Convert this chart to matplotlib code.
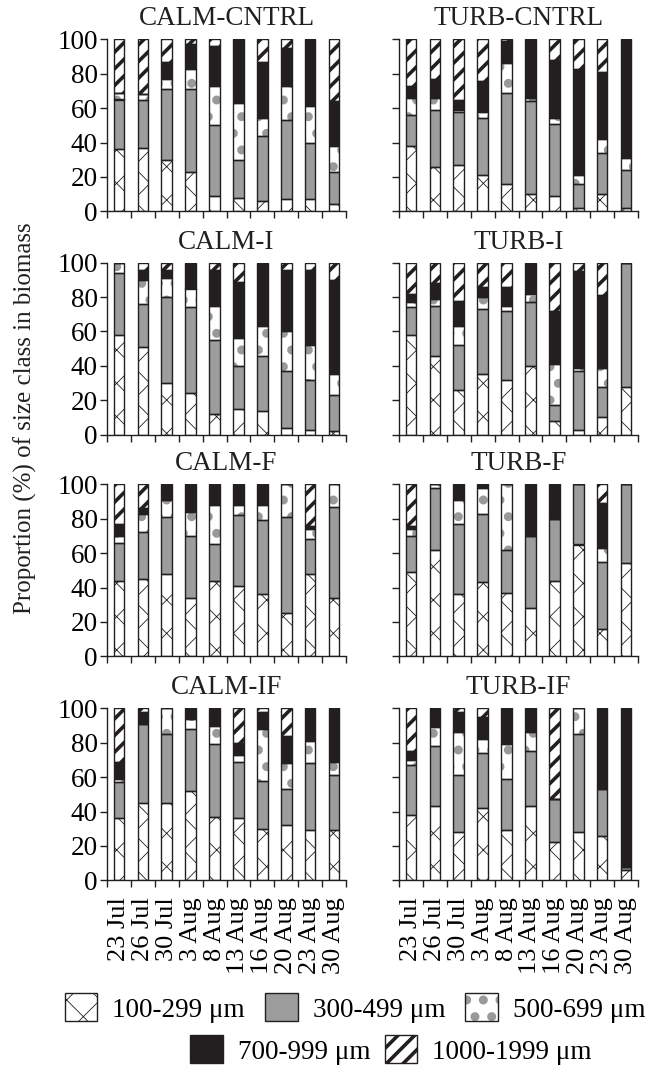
import matplotlib
matplotlib.use("Agg")
import matplotlib.pyplot as plt
from matplotlib.patches import Patch
from matplotlib.legend_handler import HandlerTuple
import numpy as np

plt.rcParams["font.family"] = ["Liberation Serif", "DejaVu Serif"]

dates = ["23 Jul", "26 Jul", "30 Jul", "3 Aug", "8 Aug", "13 Aug", "16 Aug", "20 Aug", "23 Aug", "30 Aug"]
classes = ["100-299 μm", "300-499 μm", "500-699 μm", "700-999 μm", "1000-1999 μm"]

# % of biomass per size class (rows: 100-299, 300-499, 500-699, 700-999, 1000-1999)
calm_cntrl = [[36, 37, 30, 23, 9, 8, 6, 7, 7, 4],
              [29, 28, 41, 48, 41, 22, 38, 46, 33, 19],
              [4, 3, 6, 12, 23, 33, 10, 20, 21, 15],
              [0, 0, 10, 14, 23, 37, 33, 22, 39, 26],
              [31, 32, 13, 3, 4, 0, 13, 5, 0, 36]]
turb_cntrl = [[38, 26, 27, 21, 16, 10, 9, 2, 10, 2],
              [18, 33, 31, 33, 53, 54, 42, 14, 24, 22],
              [10, 7, 1, 4, 17, 2, 3, 5, 8, 7],
              [7, 11, 6, 18, 13, 34, 34, 62, 39, 69],
              [27, 23, 35, 24, 1, 0, 12, 17, 19, 0]]
calm_i = [[58, 51, 30, 24, 12, 15, 14, 4, 3, 2],
          [36, 25, 50, 50, 43, 25, 32, 33, 29, 21],
          [6, 14, 11, 11, 20, 16, 17, 23, 20, 12],
          [0, 6, 5, 15, 21, 33, 37, 36, 44, 55],
          [0, 4, 4, 0, 4, 11, 0, 4, 4, 10]]
turb_i = [[58, 46, 26, 35, 32, 40, 8, 3, 10, 28],
          [16, 29, 26, 38, 40, 37, 9, 34, 18, 72],
          [3, 4, 11, 7, 3, 5, 24, 2, 11, 0],
          [5, 9, 15, 6, 11, 18, 31, 56, 42, 0],
          [18, 12, 22, 14, 14, 0, 28, 5, 19, 0]]
calm_f = [[44, 45, 48, 34, 44, 41, 36, 25, 48, 34],
          [22, 27, 33, 36, 21, 41, 43, 56, 20, 53],
          [4, 11, 10, 14, 23, 6, 9, 19, 6, 13],
          [7, 3, 9, 16, 12, 12, 12, 0, 2, 0],
          [23, 14, 0, 0, 0, 0, 0, 0, 24, 0]]
turb_f = [[49, 62, 36, 43, 37, 28, 44, 65, 16, 54],
          [21, 36, 41, 40, 25, 42, 36, 35, 39, 46],
          [4, 2, 14, 15, 38, 0, 0, 0, 8, 0],
          [2, 0, 9, 2, 0, 30, 20, 0, 26, 0],
          [24, 0, 0, 0, 0, 0, 0, 0, 11, 0]]
calm_if = [[36, 45, 45, 52, 37, 36, 30, 32, 29, 29],
           [21, 46, 40, 36, 42, 33, 28, 21, 39, 32],
           [2, 0, 15, 6, 11, 4, 30, 15, 13, 8],
           [10, 7, 0, 6, 10, 7, 10, 16, 19, 31],
           [31, 2, 0, 0, 0, 20, 2, 16, 0, 0]]
turb_if = [[38, 43, 28, 42, 29, 43, 22, 28, 26, 6],
           [29, 35, 33, 32, 30, 32, 25, 57, 27, 2],
           [3, 11, 25, 8, 20, 11, 0, 15, 0, 0],
           [5, 11, 12, 13, 21, 14, 0, 0, 47, 92],
           [25, 0, 2, 5, 0, 0, 53, 0, 0, 0]]

panels = [("CALM-CNTRL", calm_cntrl), ("TURB-CNTRL", turb_cntrl),
          ("CALM-I", calm_i), ("TURB-I", turb_i),
          ("CALM-F", calm_f), ("TURB-F", turb_f),
          ("CALM-IF", calm_if), ("TURB-IF", turb_if)]

INK = "#231f20"
# (face, hatch, hatch colour, hatch linewidth) per size class
STY = [("white", "x", INK, 0.6),
       ("#9d9d9d", "", INK, 0.6),
       ("white", ".", "#999999", 4.0),
       (INK, "", INK, 0.6),
       ("white", "//", INK, 2.6)]
HLW = {h: w for _, h, _, w in STY if h}
FS = 19.5

W, H = 645, 1073
fig = plt.figure(figsize=(W / 100, H / 100), dpi=100)
lefts = [107, 399]
tops = [39.3, 262.7, 484.3, 708.3]
AW, AH = 239, 172


def set_hlw(patches):
    for p in patches:
        h = p.get_hatch()
        if h and hasattr(p, "set_hatch_linewidth"):
            p.set_hatch_linewidth(HLW[h])


x = np.arange(len(dates))
for k, (title, data) in enumerate(panels):
    r, c = divmod(k, 2)
    ax = fig.add_axes([lefts[c] / W, 1 - (tops[r] + AH) / H, AW / W, AH / H])
    bot = np.zeros(len(dates))
    for i, vals in enumerate(data):
        vals = np.array(vals, float)
        face, hatch, hc, hlw = STY[i]
        with plt.rc_context({"hatch.linewidth": hlw}):
            bars = ax.bar(x, vals, 0.44, bottom=bot, color=face, hatch=hatch or None,
                          edgecolor=hc, linewidth=0, zorder=2)
        set_hlw(bars.patches)
        ax.bar(x, vals, 0.44, bottom=bot, fill=False, edgecolor=INK, linewidth=1.0, zorder=3)
        bot = bot + vals
    ax.set_xlim(-0.5, 9.5)
    ax.set_ylim(0, 100)
    for s in ("top", "right"):
        ax.spines[s].set_visible(False)
    for s in ("left", "bottom"):
        ax.spines[s].set_linewidth(1.0)
        ax.spines[s].set_color(INK)
    ax.set_yticks(range(0, 101, 20))
    ax.tick_params(axis="y", length=5, width=1.0, color=INK, pad=1.5, labelsize=FS,
                   labelleft=(c == 0))
    ax.set_xticks(x)
    ax.set_xticks(np.arange(-0.5, 10, 1), minor=True)
    ax.tick_params(axis="x", which="major", length=0, pad=12, labelsize=19)
    ax.tick_params(axis="x", which="minor", length=5, width=1.0, color=INK)
    if r == 3:
        ax.set_xticklabels(dates, rotation=90)
    else:
        ax.set_xticklabels([])
    ax.set_title(title, fontsize=FS, pad=10, color=INK)

fig.text(25 / W, 1 - 418 / H, "Proportion (%) of size class in biomass", rotation=90,
         ha="center", va="center", fontsize=18, color=INK)

handles = []
for face, hatch, hc, hlw in STY:
    fill = Patch(facecolor=face, hatch=hatch or None, edgecolor=hc, linewidth=0)
    handles.append((fill, Patch(fill=False, edgecolor=INK, linewidth=1.0)))

hm = {tuple: HandlerTuple(ndivide=1, pad=0)}
legs = [fig.legend(handles[:3], classes[:3], loc="center", bbox_to_anchor=(355 / W, 1 - 1008 / H),
                   ncol=3, frameon=False, handler_map=hm, handlelength=1.2, handleheight=1.2,
                   handletextpad=0.55, columnspacing=0.75, fontsize=FS, borderpad=0, borderaxespad=0),
        fig.legend(handles[3:], classes[3:], loc="center", bbox_to_anchor=(391 / W, 1 - 1050 / H),
                   ncol=2, frameon=False, handler_map=hm, handlelength=1.2, handleheight=1.2,
                   handletextpad=0.55, columnspacing=0.55, fontsize=FS, borderpad=0, borderaxespad=0)]
for leg in legs:
    set_hlw(leg.findobj(Patch))

fig.savefig("out.png", dpi=100, facecolor="white")
